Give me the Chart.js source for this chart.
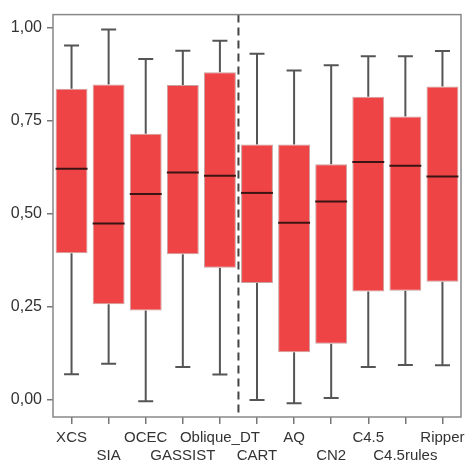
<!DOCTYPE html>
<html>
<head>
<meta charset="utf-8">
<script src="https://cdn.jsdelivr.net/npm/chart.js@4/dist/chart.umd.min.js"></script>
<style>
  html, body { margin: 0; padding: 0; background: #fff; }
  #wrap { width: 474px; height: 461px; }
</style>
</head>
<body>
<div id="wrap"><canvas id="chartBox"></canvas></div>
<script>
// dados
const categorias = ['XCS', 'SIA', 'OCEC', 'GASSIST', 'Oblique_DT', 'CART', 'AQ', 'CN2', 'C4.5', 'C4.5rules', 'Ripper']
const minimos  = [0.069, 0.097, -0.004, 0.088, 0.068, 0.000, -0.009, 0.005, 0.088, 0.094, 0.093]
const quartil1 = [0.394, 0.257, 0.240, 0.391, 0.355, 0.314, 0.128, 0.151, 0.291, 0.293, 0.317]
const medianas = [0.621, 0.474, 0.553, 0.611, 0.602, 0.556, 0.476, 0.533, 0.639, 0.629, 0.600]
const quartil3 = [0.836, 0.847, 0.715, 0.846, 0.880, 0.686, 0.686, 0.633, 0.814, 0.761, 0.842]
const maximos  = [0.952, 0.995, 0.916, 0.938, 0.965, 0.930, 0.885, 0.899, 0.923, 0.923, 0.937]
const ticksY = [0, 0.25, 0.5, 0.75, 1]
const separador = 4.5 // linha tracejada entre Oblique_DT e CART

const caixas = categorias.map((c, i) => [quartil1[i], quartil3[i]])

// desenha bigodes, medianas, moldura e linha tracejada
const boxPlugin = {
  id: 'boxPlugin',
  beforeDatasetsDraw(chart) {
    const {ctx, scales: {x, y}} = chart
    ctx.save()
    ctx.strokeStyle = '#555'
    ctx.lineWidth = 2
    for (let i = 0; i < categorias.length; i++) {
      const px = x.getPixelForValue(i)
      ctx.beginPath()
      ctx.moveTo(px, y.getPixelForValue(maximos[i]))
      ctx.lineTo(px, y.getPixelForValue(quartil3[i]))
      ctx.moveTo(px, y.getPixelForValue(quartil1[i]))
      ctx.lineTo(px, y.getPixelForValue(minimos[i]))
      ctx.moveTo(px - 7.5, y.getPixelForValue(maximos[i]))
      ctx.lineTo(px + 7.5, y.getPixelForValue(maximos[i]))
      ctx.moveTo(px - 7.5, y.getPixelForValue(minimos[i]))
      ctx.lineTo(px + 7.5, y.getPixelForValue(minimos[i]))
      ctx.stroke()
    }
    ctx.restore()
  },
  afterDatasetsDraw(chart) {
    const {ctx, chartArea, scales: {x, y}} = chart
    const meta = chart.getDatasetMeta(0)
    ctx.save()
    ctx.strokeStyle = '#3a1414'
    ctx.lineWidth = 2
    for (let i = 0; i < categorias.length; i++) {
      const bar = meta.data[i]
      const py = y.getPixelForValue(medianas[i])
      ctx.beginPath()
      ctx.moveTo(bar.x - bar.width / 2, py)
      ctx.lineTo(bar.x + bar.width / 2, py)
      ctx.stroke()
    }
    // linha tracejada
    const sx = x.getPixelForValue(separador)
    ctx.strokeStyle = '#444'
    ctx.lineWidth = 2
    ctx.setLineDash([8, 5])
    ctx.beginPath()
    ctx.moveTo(sx, chartArea.top)
    ctx.lineTo(sx, chartArea.bottom)
    ctx.stroke()
    ctx.setLineDash([])
    // moldura
    ctx.strokeStyle = '#888'
    ctx.lineWidth = 1.5
    ctx.strokeRect(chartArea.left, chartArea.top, chartArea.right - chartArea.left, chartArea.bottom - chartArea.top)
    ctx.restore()
  }
}

Chart.defaults.font.family = "'Liberation Sans', Arial, sans-serif"
Chart.defaults.font.size = 15
Chart.defaults.color = '#333'

const ctx = document.getElementById('chartBox')

var chartBox = new Chart(ctx, {
  type: 'bar',
  data: {
    labels: categorias,
    datasets: [{
      data: caixas,
      backgroundColor: '#ef4446',
      borderColor: '#c9a0a0',
      borderWidth: 1,
      borderSkipped: false,
      barPercentage: 0.86,
      categoryPercentage: 1
    }]
  },
  options: {
    responsive: true,
    maintainAspectRatio: false,
    animation: false,
    layout: { padding: { left: 0, right: 13, top: 12, bottom: 0 } },
    plugins: { legend: { display: false }, tooltip: { enabled: false } },
    scales: {
      x: {
        offset: true,
        grid: { offset: false, drawOnChartArea: false, drawTicks: true, tickLength: 7, color: '#777', lineWidth: 1.5 },
        border: { display: false },
        ticks: {
          autoSkip: false,
          maxRotation: 0,
          minRotation: 0,
          padding: 4,
          font: { lineHeight: 1.25 },
          callback: function (v, i) {
            return i % 2 === 0 ? categorias[i] : ['', categorias[i]]
          }
        },
        afterFit: (scale) => { scale.height = 44 }
      },
      y: {
        min: -0.046,
        max: 1.035,
        grid: { drawOnChartArea: false, drawTicks: true, tickLength: 6, color: '#777', lineWidth: 1.5 },
        border: { display: false },
        afterBuildTicks: (scale) => { scale.ticks = ticksY.map(v => ({ value: v })) },
        ticks: {
          padding: 5,
          font: { size: 16 },
          callback: (v) => v.toFixed(2).replace('.', ',')
        },
        afterFit: (scale) => { scale.width = 53 }
      }
    }
  },
  plugins: [boxPlugin]
})
</script>
</body>
</html>
